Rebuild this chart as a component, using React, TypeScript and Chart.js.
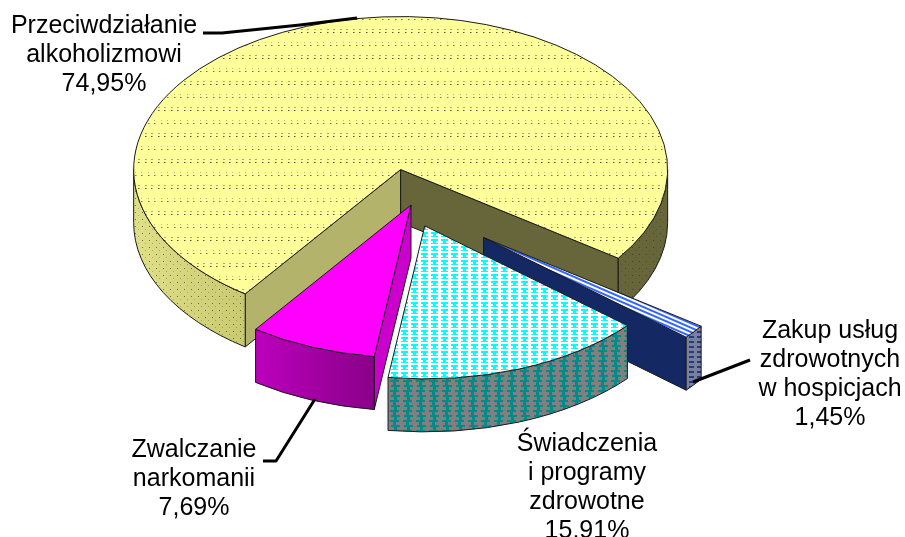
import React, { useEffect, useRef } from "react";
import { Chart, registerables } from "chart.js";

Chart.register(...registerables);

const categories = ["Przeciwdziałanie alkoholizmowi", "Zakup usług zdrowotnych w hospicjach", "Świadczenia i programy zdrowotne", "Zwalczanie narkomanii"];
const shares = [74.95, 1.45, 15.91, 7.69];
const explodeFractions = [0.235, 0.345, 0.146, 0];
const labelLines = [
  ["Przeciwdziałanie", "alkoholizmowi", "74,95%"],
  ["Zakup usług", "zdrowotnych", "w hospicjach", "1,45%"],
  ["Świadczenia", "i programy", "zdrowotne", "15,91%"],
  ["Zwalczanie", "narkomanii", "7,69%"],
];
const labelCenters = [[104, 33], [830, 338], [587, 451], [194, 457]];
const leaderLines = [
  [[203, 33], [222, 33], [300, 25], [357, 18]],
  [[693, 382], [750, 360]],
  [],
  [[263, 461], [276, 461], [315, 399]],
];

const W = 905, H = 537;
const RADIUS = 267, SQUASH = 0.573, DEPTH = 53, LINE_H = 29;
const ROTATION = 215.6;
const CENTER_X = 411, CENTER_Y = 205;

function tile(w: number, h: number, paint: (g: CanvasRenderingContext2D) => void): HTMLCanvasElement {
  const c = document.createElement("canvas");
  c.width = w; c.height = h;
  paint(c.getContext("2d")!);
  return c;
}

function makePatterns(ctx: CanvasRenderingContext2D) {
  const rep = (c: HTMLCanvasElement) => ctx.createPattern(c, "repeat")!;
  const dots = rep(tile(13, 26, (g) => {
    g.fillStyle = "#ffff99"; g.fillRect(0, 0, 13, 26);
    for (const x of [2, 8]) {
      g.fillStyle = "#55553f"; g.fillRect(x, 6, 1, 1);
      g.fillStyle = "#a8a878"; g.fillRect(x, 3, 1, 1); g.fillRect(x + 1, 6, 1, 1); g.fillRect(x + 1, 3, 1, 1);
    }
    for (const x of [5, 11]) {
      g.fillStyle = "#77775a"; g.fillRect(x, 19, 1, 1);
      g.fillStyle = "#b8b880"; g.fillRect(x, 16, 1, 1); g.fillRect(x + 1, 19, 1, 1);
    }
  }));
  const wallDots = rep(tile(7, 7, (g) => {
    g.fillStyle = "rgba(50,50,25,0.65)"; g.fillRect(2, 2, 1, 1);
    g.fillStyle = "rgba(50,50,25,0.3)"; g.fillRect(5, 5, 1, 1);
  }));
  const weaveTop = rep(tile(10, 7, (g) => {
    g.fillStyle = "#ffffff"; g.fillRect(0, 0, 10, 7);
    g.fillStyle = "#00ffff";
    g.fillRect(1, 1, 7, 2); g.fillRect(3, 3, 3, 2); g.fillRect(1, 5, 7, 1);
  }));
  const weaveWall = rep(tile(13, 10, (g) => {
    g.fillStyle = "#808080"; g.fillRect(0, 0, 13, 10);
    g.fillStyle = "#008b8b";
    g.fillRect(0, 0, 9, 2); g.fillRect(3, 2, 3, 3); g.fillRect(1, 5, 9, 2); g.fillRect(4, 7, 3, 3);
  }));
  const stripes = rep(tile(8, 4, (g) => {
    g.fillStyle = "#ffffff"; g.fillRect(0, 0, 8, 4);
    g.fillStyle = "#3366ff"; g.fillRect(0, 0, 8, 2);
  }));
  stripes.setTransform(new DOMMatrix().rotate(23.5));
  const blueWall = rep(tile(8, 5, (g) => {
    g.fillStyle = "#77809f"; g.fillRect(0, 0, 8, 5);
    g.fillStyle = "#2a3a78"; g.fillRect(1, 1, 5, 2);
  }));
  return { yellowDots: dots, wallDots, weaveTop, weaveWall, stripes, blueWall };
}

const pie3dPlugin = {
  id: "pie3d",
  beforeDatasetsDraw(chart: any) {
    const ctx: CanvasRenderingContext2D = chart.ctx;
    const p = makePatterns(ctx);
    const meta = chart.getDatasetMeta(0);
    const yellowWall = ctx.createLinearGradient(133, 0, 667, 0);
    yellowWall.addColorStop(0, "#e0e088");
    yellowWall.addColorStop(0.22, "#c8c870");
    yellowWall.addColorStop(0.9, "#66663a");
    const pinkWall = ctx.createLinearGradient(258, 0, 378, 0);
    pinkWall.addColorStop(0, "#bb00bb");
    pinkWall.addColorStop(1, "#880088");
    const styles: any[] = [
      { top: p.yellowDots, outer: yellowWall, overlay: p.wallDots, startWall: "#b3b36b", endWall: "#66663a" },
      { top: p.stripes, outer: p.blueWall, startWall: "#142864", endWall: "#142864" },
      { top: p.weaveTop, outer: p.weaveWall, startWall: "#808080", endWall: "#808080" },
      { top: "#ff00ff", outer: pinkWall, startWall: "#cc00cc", endWall: "#cc00cc" },
    ];
    const order = [0, 1, 2, 3];
    ctx.save();
    ctx.lineJoin = "round";
    for (const i of order) {
      const arc = meta.data[i].getProps(["x", "y", "startAngle", "endAngle", "outerRadius"], true);
      const a = arc.startAngle, b = arc.endAngle, R = arc.outerRadius;
      const mid = (a + b) / 2;
      const off = explodeFractions[i] * R;
      const cx = arc.x + Math.cos(mid) * off;
      const cy = arc.y + Math.sin(mid) * off * SQUASH;
      const ry = R * SQUASH;
      const st = styles[i];
      ctx.strokeStyle = "#1a1a1a";
      ctx.lineWidth = 1;
      const cut = (theta: number, fill: any) => {
        const px = cx + Math.cos(theta) * R, py = cy + Math.sin(theta) * ry;
        ctx.beginPath();
        ctx.moveTo(cx, cy); ctx.lineTo(px, py); ctx.lineTo(px, py + DEPTH); ctx.lineTo(cx, cy + DEPTH); ctx.closePath();
        ctx.fillStyle = fill; ctx.fill(); ctx.stroke();
      };
      if (Math.cos(a) < 0) cut(a, st.startWall);
      if (Math.cos(b) > 0) cut(b, st.endWall);
      for (let k = -1; k <= 2; k++) {
        const lo = Math.max(a, 2 * Math.PI * k), hi = Math.min(b, 2 * Math.PI * k + Math.PI);
        if (hi <= lo) continue;
        ctx.beginPath();
        ctx.ellipse(cx, cy, R, ry, 0, lo, hi);
        ctx.ellipse(cx, cy + DEPTH, R, ry, 0, hi, lo, true);
        ctx.closePath();
        ctx.fillStyle = st.outer; ctx.fill();
        if (st.overlay) { ctx.fillStyle = st.overlay; ctx.fill(); }
        ctx.stroke();
      }
      ctx.beginPath();
      ctx.moveTo(cx, cy);
      ctx.ellipse(cx, cy, R, ry, 0, a, b);
      ctx.closePath();
      ctx.fillStyle = st.top; ctx.fill(); ctx.stroke();
    }
    ctx.restore();
    return false;
  },
  afterDraw(chart: any) {
    const ctx: CanvasRenderingContext2D = chart.ctx;
    ctx.save();
    ctx.strokeStyle = "#000";
    ctx.lineWidth = 3;
    ctx.lineJoin = "round";
    for (const line of leaderLines) {
      if (!line.length) continue;
      ctx.beginPath();
      line.forEach(([x, y], j) => (j ? ctx.lineTo(x, y) : ctx.moveTo(x, y)));
      ctx.stroke();
    }
    ctx.fillStyle = "#000";
    ctx.font = '25px "Liberation Sans", Arial, sans-serif';
    ctx.textAlign = "center";
    ctx.textBaseline = "alphabetic";
    labelLines.forEach((lines, i) => {
      lines.forEach((t, j) => ctx.fillText(t, labelCenters[i][0], labelCenters[i][1] + j * LINE_H));
    });
    ctx.restore();
  },
};

export default function App() {
  const ref = useRef<HTMLCanvasElement>(null);
  useEffect(() => {
    document.body.style.margin = "0";
    const chart = new Chart(ref.current!, {
      type: "pie",
      data: {
        labels: categories,
        datasets: [{ data: shares, backgroundColor: ["#ffff99", "#3366ff", "#00ffff", "#ff00ff"], borderWidth: 0 }],
      },
      options: {
        animation: false,
        responsive: false,
        rotation: ROTATION,
        radius: RADIUS,
        layout: { padding: { left: 0, top: 0, right: W - 2 * CENTER_X, bottom: H - 2 * CENTER_Y } },
        plugins: { legend: { display: false }, tooltip: { enabled: false } },
      } as any,
      plugins: [pie3dPlugin as any],
    });
    return () => chart.destroy();
  }, []);
  return <canvas ref={ref} width={W} height={H} style={{ display: "block", position: "fixed", left: 0, top: 0 }} />;
}
